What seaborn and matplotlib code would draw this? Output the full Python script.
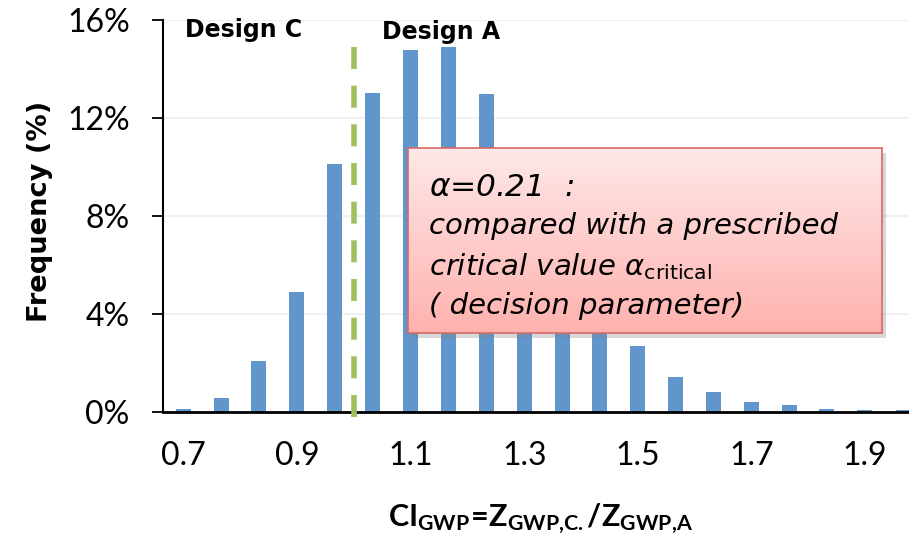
import numpy as np
import pandas as pd
import matplotlib
matplotlib.use("Agg")
import matplotlib.pyplot as plt
from matplotlib.patches import Rectangle
from matplotlib.ticker import FuncFormatter
import seaborn as sns

# Histogram of the GWP comparison index (bin centres and frequency in %)
ratio_bins = [0.700, 0.767, 0.833, 0.900, 0.967, 1.033, 1.100, 1.167, 1.233, 1.300,
              1.367, 1.433, 1.500, 1.567, 1.633, 1.700, 1.767, 1.833, 1.900, 1.967]
frequency_pct = [0.12, 0.56, 2.07, 4.88, 10.13, 13.00, 14.77, 14.88, 12.98, 9.9,
                 6.8, 4.1, 2.66, 1.42, 0.81, 0.38, 0.27, 0.11, 0.06, 0.05]
x_ticks = [0.7, 0.9, 1.1, 1.3, 1.5, 1.7, 1.9]
y_ticks = [0, 4, 8, 12, 16]
threshold = 1.0
alpha_value = 0.21

sns.set_style("white")
plt.rcParams["font.family"] = ["Lato", "DejaVu Sans"]
plt.rcParams["mathtext.fontset"] = "custom"
plt.rcParams["mathtext.rm"] = "Lato"
plt.rcParams["mathtext.it"] = "Lato:italic"
plt.rcParams["mathtext.bf"] = "Lato:bold"
for key in ("text.color", "axes.labelcolor", "xtick.color", "ytick.color"):
    plt.rcParams[key] = "black"

BAR_BLUE = "#6096cb"
GREEN = "#9fc05f"
WIDE = ["DejaVu Sans"]

fig = plt.figure(figsize=(9.09, 5.47), dpi=100)
ax = fig.add_axes([163 / 909, 1 - 411.5 / 547, 746 / 909, 391.5 / 547])

df = pd.DataFrame({"ratio": ratio_bins, "freq": frequency_pct})
sns.barplot(data=df, x="ratio", y="freq", native_scale=True, width=0.4,
            color=BAR_BLUE, saturation=1, linewidth=0, ax=ax, zorder=2)

ax.set_xlim(0.6643, 1.9775)
ax.set_ylim(0, 16)
ax.set_xticks(x_ticks)
ax.set_xticklabels([f"{v:.1f}" for v in x_ticks])
ax.set_yticks(y_ticks)
ax.yaxis.set_major_formatter(FuncFormatter(lambda v, _: f"{v:.0f}%"))
ax.grid(axis="y", color="#f0f0f0", linewidth=1.5, zorder=0)
ax.set_axisbelow(True)

for side in ("top", "right"):
    ax.spines[side].set_visible(False)
ax.spines["left"].set_color("black")
ax.spines["left"].set_linewidth(1.5)
ax.spines["bottom"].set_color("black")
ax.spines["bottom"].set_linewidth(2.0)
ax.tick_params(axis="y", direction="out", length=8, width=1.3, color="black",
               labelcolor="black", labelsize=23, pad=16, left=True)
ax.tick_params(axis="x", length=0, labelcolor="black", labelsize=23, pad=21)

# threshold separating Design C from Design A
ax.plot([threshold, threshold], [14.9, -0.22], color=GREEN, linewidth=4,
        linestyle=(0, (3.96, 3.0)), solid_capstyle="butt", dash_capstyle="butt",
        clip_on=False, zorder=4)

ax.text((185 - 163) / 746, (411.5 - 36.7) / 391.5, "Design C", transform=ax.transAxes,
        fontsize=17, fontweight="bold", family=WIDE, color="black",
        va="baseline", ha="left")
ax.text((382 - 163) / 746, (411.5 - 38.8) / 391.5, "Design A", transform=ax.transAxes,
        fontsize=17, fontweight="bold", family=WIDE, color="black",
        va="baseline", ha="left")

ax.set_ylabel("Frequency (%)", fontsize=19.6, fontweight="bold", family=WIDE,
              color="black", va="center")
ax.yaxis.set_label_coords((40 - 163) / 746, (411.5 - 211.5) / 391.5)
ax.set_xlabel(r"$\mathbf{CI}_{\mathbf{GWP}}\!\mathbf{=}\!\mathbf{Z}_{\mathbf{GWP{,}C.}}"
              r"\mathbf{/Z}_{\mathbf{GWP{,}A}}$",
              fontsize=22, color="black", va="center")
ax.xaxis.set_label_coords((541 - 163) / 746, (411.5 - 519) / 391.5)

# annotation box with gradient fill and drop shadow
bx0, bx1, by0, by1 = 408, 882, 148, 333
box_rect = [bx0 / 909, 1 - by1 / 547, (bx1 - bx0) / 909, (by1 - by0) / 547]
shadow = Rectangle((box_rect[0] + 4 / 909, box_rect[1] - 5 / 547), box_rect[2], box_rect[3],
                   transform=fig.transFigure, facecolor="#7f7f7f", alpha=0.3,
                   edgecolor="none", zorder=4)
fig.patches.append(shadow)

box_ax = fig.add_axes(box_rect, zorder=5)
top_rgb = np.array([253, 232, 232]) / 255
bot_rgb = np.array([255, 178, 174]) / 255
t = np.linspace(0, 1, 200)[:, None, None]
grad = top_rgb * (1 - t) + bot_rgb * t
box_ax.imshow(grad, aspect="auto", extent=[0, 1, 0, 1], origin="upper")
box_ax.set_xticks([])
box_ax.set_yticks([])
for sp in box_ax.spines.values():
    sp.set_color("#d86a66")
    sp.set_linewidth(1.2)

bw, bh = bx1 - bx0, by1 - by0
tx = (429 - bx0) / bw
box_style = dict(transform=box_ax.transAxes, fontstyle="italic", family=WIDE,
                 math_fontfamily="dejavusans", va="baseline", color="black")
box_ax.text(tx, (by1 - 196) / bh, rf"$\alpha$=0.21  :", fontsize=22.5, **box_style)
box_ax.text(tx, (by1 - 234) / bh, "compared with a prescribed", fontsize=21, **box_style)
box_ax.text(tx, (by1 - 275) / bh, r"critical value $\alpha_{\mathrm{critical}}$",
            fontsize=21, **box_style)
box_ax.text(tx, (by1 - 314) / bh, "( decision parameter)", fontsize=21, **box_style)

fig.savefig("out.png", dpi=100)
